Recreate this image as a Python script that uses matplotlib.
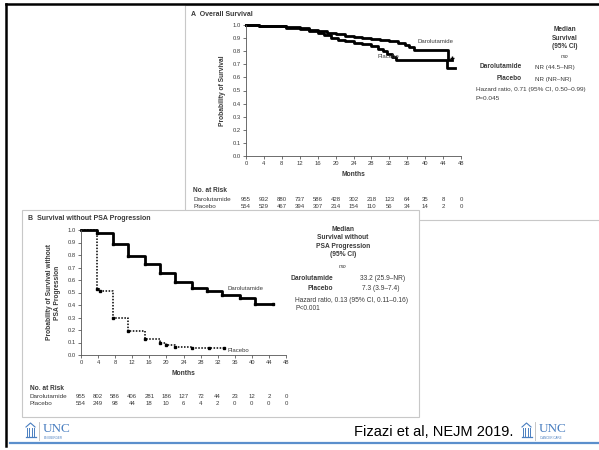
import matplotlib.pyplot as plt
from matplotlib.transforms import blended_transform_factory
from matplotlib.patches import Rectangle
from matplotlib.lines import Line2D

W, H = 599, 450
plt.rcParams['font.family'] = ['Liberation Sans', 'DejaVu Sans']
TXT = '#3a3a3a'

# ---- data ----
months = [0, 4, 8, 12, 16, 20, 24, 28, 32, 36, 40, 44, 48]
yticks = [0.0, 0.1, 0.2, 0.3, 0.4, 0.5, 0.6, 0.7, 0.8, 0.9, 1.0]

# A: overall survival
os_dar_t = [0, 3, 6, 9, 12, 14, 16, 18, 20, 22, 24, 26, 28, 30, 32, 34, 35.5, 36.5, 37.5, 45.0, 45.9]
os_dar_s = [1.0, 0.995, 0.99, 0.985, 0.975, 0.965, 0.955, 0.94, 0.93, 0.915, 0.905, 0.90, 0.895,
            0.885, 0.875, 0.86, 0.845, 0.83, 0.81, 0.735, 0.735]
os_pbo_t = [0, 3, 6, 9, 12, 14, 16, 17.5, 19, 20.5, 22, 24, 26, 28, 29.5, 30.5, 31.5, 32.5, 33.5, 44.8, 46.6]
os_pbo_s = [1.0, 0.995, 0.99, 0.98, 0.97, 0.955, 0.94, 0.92, 0.90, 0.885, 0.875, 0.865, 0.855,
            0.84, 0.82, 0.80, 0.78, 0.755, 0.73, 0.675, 0.675]
os_risk_dar = [955, 932, 880, 737, 586, 428, 302, 218, 123, 64, 35, 8, 0]
os_risk_pbo = [554, 529, 467, 394, 307, 214, 154, 110, 56, 34, 14, 2, 0]

# B: survival without PSA progression
psa_dar_t = [0, 3.7, 7.5, 11, 15, 18.5, 22, 26, 29.4, 33, 37.2, 40.7, 45]
psa_dar_s = [1.0, 0.975, 0.885, 0.795, 0.73, 0.66, 0.585, 0.54, 0.51, 0.48, 0.455, 0.405, 0.405]
psa_pbo_t = [0, 3.7, 4.5, 7.5, 11, 15, 18.5, 20, 22, 26, 30, 33.5]
psa_pbo_s = [1.0, 0.53, 0.515, 0.30, 0.19, 0.13, 0.095, 0.08, 0.065, 0.055, 0.055, 0.055]
psa_risk_dar = [955, 802, 586, 406, 281, 186, 127, 72, 44, 23, 12, 2, 0]
psa_risk_pbo = [554, 249, 98, 44, 18, 10, 6, 4, 2, 0, 0, 0, 0]

fig = plt.figure(figsize=(W / 100, H / 100), dpi=100)
fig.patch.set_facecolor('white')


def fx(x):
    return x / W


def fy(y):
    return 1 - y / H


def put(x, y, s, **kw):
    kw.setdefault('color', TXT)
    kw.setdefault('fontsize', 4.5)
    kw.setdefault('va', 'center')
    kw.setdefault('zorder', 5)
    fig.text(fx(x), fy(y), s, **kw)


def box(x0, y0, x1, y1, z, ec='#c8c8c8', lw=0.8):
    fig.patches.append(Rectangle((fx(x0), fy(y1)), fx(x1 - x0), (y1 - y0) / H,
                                 transform=fig.transFigure, facecolor='white',
                                 edgecolor=ec, lw=lw, zorder=z))


def km_axes(x0, y0, x1, y1, z):
    ax = fig.add_axes([fx(x0), fy(y1), fx(x1 - x0), (y1 - y0) / H])
    ax.set_zorder(z)
    ax.set_xlim(0, 48)
    ax.set_ylim(0, 1.0)
    ax.set_xticks(months)
    ax.set_yticks(yticks)
    ax.set_yticklabels(['%.1f' % v for v in yticks])
    ax.tick_params(labelsize=4.2, length=2, width=0.5, pad=1.5, colors=TXT)
    for side in ['top', 'right']:
        ax.spines[side].set_visible(False)
    for side in ['left', 'bottom']:
        ax.spines[side].set_linewidth(0.6)
        ax.spines[side].set_color('#555555')
    ax.patch.set_alpha(0)
    return ax


def risk_table(ax, dar, pbo, xlab, y_head, y_dar, y_pbo):
    tr = blended_transform_factory(ax.transData, fig.transFigure)
    put(xlab, y_head, 'No. at Risk', fontweight='bold', fontsize=4.7)
    put(xlab, y_dar, 'Darolutamide', fontsize=4.6)
    put(xlab, y_pbo, 'Placebo', fontsize=4.6)
    for m, a, b in zip(months, dar, pbo):
        ax.text(m, fy(y_dar), str(a), transform=tr, ha='center', va='center', fontsize=4.3, color=TXT)
        ax.text(m, fy(y_pbo), str(b), transform=tr, ha='center', va='center', fontsize=4.3, color=TXT)


def logo(lx, sub):
    # small building glyph + wordmark
    c = '#4a7fc0'
    fig.add_artist(Line2D([fx(lx), fx(lx + 4.5), fx(lx + 9)], [fy(427), fy(423), fy(427)], color=c, lw=0.8))
    for k in range(4):
        fig.add_artist(Line2D([fx(lx + 1 + k * 2.3)] * 2, [fy(428), fy(436)], color=c, lw=0.7))
    fig.add_artist(Line2D([fx(lx - 0.5), fx(lx + 9.5)], [fy(437), fy(437)], color=c, lw=0.9))
    fig.add_artist(Line2D([fx(lx + 13), fx(lx + 13)], [fy(422), fy(440)], color='#bbbbbb', lw=0.6))
    put(lx + 17, 429, 'UNC', color=c, fontsize=9.5, family='Liberation Serif')
    put(lx + 18, 438, sub, color=c, fontsize=2.2)


# ---- slide frame ----
fig.add_artist(Line2D([fx(6), fx(6)], [fy(4), fy(446)], color='black', lw=1.8))
fig.add_artist(Line2D([fx(6), fx(599)], [fy(4), fy(4)], color='black', lw=1.8))
fig.add_artist(Line2D([fx(10), fx(599)], [fy(443), fy(443)], color='#5b8fcc', lw=1.6))

# ---- panel A ----
box(185, 5, 605, 220, z=0.1)
axA = km_axes(246, 25, 461, 156, z=0.5)
axA.step(os_dar_t, os_dar_s, where='post', color='black', lw=2.0, clip_on=False)
axA.step(os_pbo_t, os_pbo_s, where='post', color='black', lw=2.0, clip_on=False)
axA.plot([os_dar_t[-1]], [os_dar_s[-1] + 0.012], marker='+', color='black', ms=3, mew=1)
axA.set_xlabel('Months', fontsize=4.8, fontweight='bold', color=TXT, labelpad=4)
axA.set_ylabel('Probability of Survival', fontsize=4.8, fontweight='bold', color=TXT, labelpad=5)
axA.text(38.3, 0.875, 'Darolutamide', fontsize=4.3, color=TXT, va='center')
axA.text(29.3, 0.76, 'Placebo', fontsize=4.3, color=TXT, va='center')
put(191, 14, 'A  Overall Survival', fontweight='bold', fontsize=5)
put(565, 38, 'Median\nSurvival\n(95% CI)', ha='center', fontweight='bold', fontsize=4.7, linespacing=1.25)
put(565, 57, 'mo', ha='center', fontstyle='italic', fontsize=4)
put(522, 67, 'Darolutamide', ha='right', fontweight='bold', fontsize=4.7)
put(522, 79, 'Placebo', ha='right', fontweight='bold', fontsize=4.7)
put(535, 67, 'NR (44.5\u2013NR)')
put(535, 79, 'NR (NR\u2013NR)')
put(476, 90, 'Hazard ratio, 0.71 (95% CI, 0.50\u20130.99)', fontsize=4.6)
put(476, 98, 'P=0.045', fontsize=4.6)
risk_table(axA, os_risk_dar, os_risk_pbo, 193, 190, 199.5, 207)

# ---- panel B ----
box(22, 210, 419, 417, z=1)
axB = km_axes(81, 230, 286, 355, z=2)
axB.step(psa_dar_t, psa_dar_s, where='post', color='black', lw=2.0, clip_on=False)
axB.plot(psa_dar_t[1:], psa_dar_s[1:], 's', color='black', ms=2)
axB.step(psa_pbo_t, psa_pbo_s, where='post', color='black', lw=1.1, ls=(0, (1, 1)), clip_on=False)
axB.plot(psa_pbo_t[1:], psa_pbo_s[1:], 's', color='black', ms=2)
axB.set_xlabel('Months', fontsize=4.8, fontweight='bold', color=TXT, labelpad=4)
axB.set_ylabel('Probability of Survival without\nPSA Progression', fontsize=4.8,
               fontweight='bold', color=TXT, labelpad=5)
axB.text(34.3, 0.535, 'Darolutamide', fontsize=4.3, color=TXT, va='center')
axB.text(34.3, 0.04, 'Placebo', fontsize=4.3, color=TXT, va='center')
put(28, 218, 'B  Survival without PSA Progression', fontweight='bold', fontsize=5)
put(343, 242, 'Median\nSurvival without\nPSA Progression\n(95% CI)', ha='center',
    fontweight='bold', fontsize=4.8, linespacing=1.25)
put(343, 267, 'mo', ha='center', fontstyle='italic', fontsize=4)
put(333, 278, 'Darolutamide', ha='right', fontweight='bold', fontsize=4.8)
put(333, 288, 'Placebo', ha='right', fontweight='bold', fontsize=4.8)
put(360, 278, '33.2 (25.9\u2013NR)', fontsize=4.8)
put(362, 288, '7.3 (3.9\u20137.4)', fontsize=4.8)
put(295, 301, 'Hazard ratio, 0.13 (95% CI, 0.11\u20130.16)', fontsize=4.8)
put(295, 309, 'P<0.001', fontsize=4.8)
risk_table(axB, psa_risk_dar, psa_risk_pbo, 30, 388, 396.5, 403.5)

# ---- footer ----
put(354, 432, 'Fizazi et al, NEJM 2019.', color='black', fontsize=10.5)
logo(26, 'LINEBERGER')
logo(522, 'CANCER CARE')

fig.savefig('out.png', dpi=100)
